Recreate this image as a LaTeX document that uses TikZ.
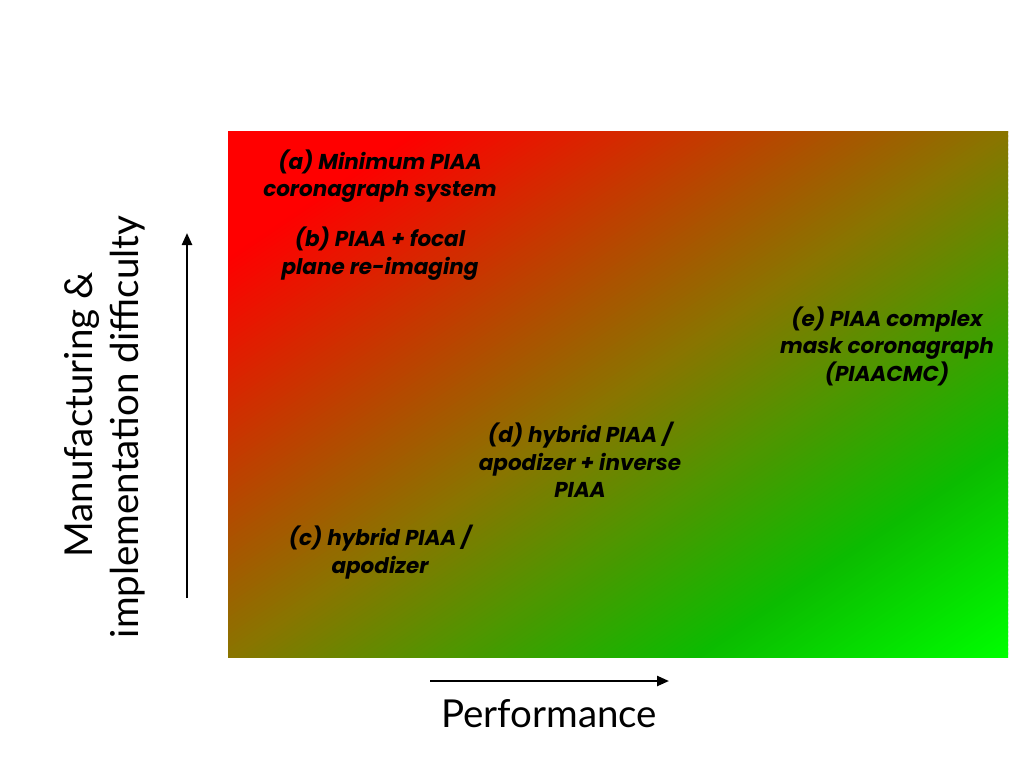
\documentclass[tikz,border=0pt]{standalone}
\usepackage{fontspec}
\setmainfont{Lato}
\newfontfamily\labelfont{Poppins}
\usetikzlibrary{arrows.meta}
\tikzset{
  lbl/.style={align=center, inner sep=0pt, font=\labelfont\fontsize{21.5}{27.5}\selectfont\bfseries\itshape},
  axlbl/.style={inner sep=0pt, font=\fontsize{38.5}{44}\selectfont},
  axarrow/.style={line width=2.4pt, -{Triangle[length=12pt,width=10pt]}}
}
\begin{document}
\begin{tikzpicture}[x=1pt,y=-1pt]
\useasboundingbox (0,0) rectangle (1024,768);
\fill[white] (0,0) rectangle (1024,768);
% diagonal red-to-green gradient panel, drawn as thin strips
\begin{scope}[shift={(228,131)}, x=780pt, y=-526pt]
  \clip (0,0) rectangle (1,1);
  \foreach \i in {0,...,239} {
    \pgfmathsetmacro\p{(\i+0.5)/240}
    \pgfmathtruncatemacro\rr{\p<0.12 ? 255 : (\p<0.5 ? 255-(255-138)*(\p-0.12)/0.38 : (\p<0.8 ? 138-(138-12)*(\p-0.5)/0.3 : 12-12*(\p-0.8)/0.2))}
    \pgfmathtruncatemacro\gg{\p<0.12 ? 0 : (\p<0.5 ? 117*(\p-0.12)/0.38 : (\p<0.8 ? 117+(188-117)*(\p-0.5)/0.3 : 188+(255-188)*(\p-0.8)/0.2))}
    \definecolor{stripc}{RGB}{\rr,\gg,0}
    \pgfmathsetmacro\ca{2*\i/240}
    \pgfmathsetmacro\cb{2*(\i+1)/240+0.004}
    \fill[stripc] (\ca,0) -- (\cb,0) -- (0,\cb) -- (0,\ca) -- cycle;
  }
\end{scope}
\node[lbl] (a) at (380,176) {(a) Minimum PIAA\\coronagraph system};
\node[lbl] (b) at (380,253.5) {(b) PIAA + focal\\plane re-imaging};
\node[lbl] (c) at (380,552) {(c) hybrid PIAA /\\apodizer};
\node[lbl] (d) at (580,460) {(d) hybrid PIAA /\\apodizer + inverse\\PIAA};
\node[lbl] (e) at (887,346) {(e) PIAA complex\\mask coronagraph\\(PIAACMC)};
\node[axlbl, rotate=90] (ylab1) at (82,415) {Manufacturing \&};
\node[axlbl, rotate=90] (ylab2) at (128,427) {implementation difficulty};
\node[axlbl] (xlab) at (549,714) {Performance};
\coordinate (ybot) at (187,598);
\coordinate (ytop) at (187,233);
\coordinate (xl) at (430,681);
\coordinate (xr) at (669,681);
\draw[axarrow] (ybot) -- (ytop);
\draw[axarrow] (xl) -- (xr);
\end{tikzpicture}
\end{document}
